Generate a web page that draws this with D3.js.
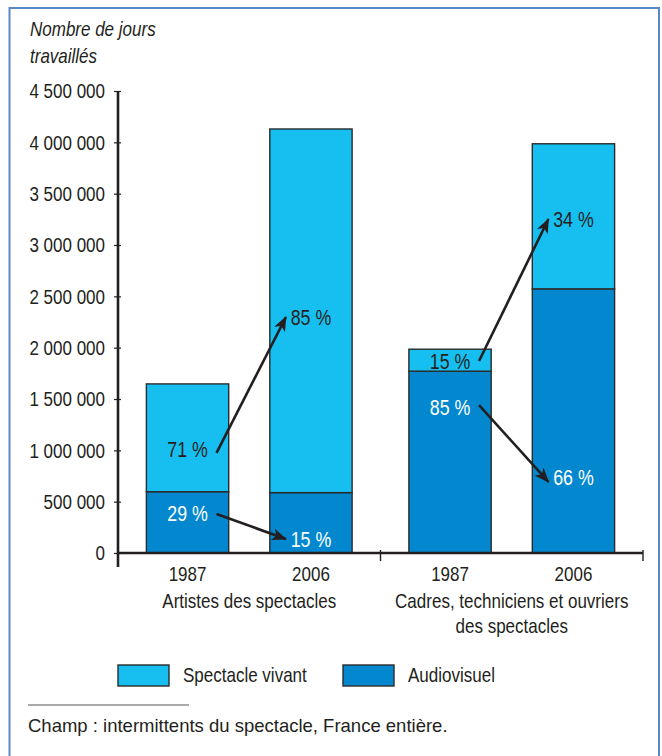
<!DOCTYPE html>
<html>
<head>
<meta charset="utf-8">
<script src="https://cdn.jsdelivr.net/npm/d3@7"></script>
<style>
  body { margin: 0; background: #fff; }
  svg text { font-family: "Liberation Sans", Arial, sans-serif; fill: #231f20; }
</style>
</head>
<body>
<div id="chart"></div>
<script>
/*
    Data
*/
var groups = ["Artistes des spectacles", "Cadres, techniciens et ouvriers des spectacles"];
var groupLines = [["Artistes des spectacles"], ["Cadres, techniciens et ouvriers", "des spectacles"]];
var years = ["1987", "2006"];
var series = ["Spectacle vivant", "Audiovisuel"];

// one value per bar, order: Artistes 1987, Artistes 2006, Cadres 1987, Cadres 2006
var audiovisuel = [597000, 588000, 1771000, 2573000];
var vivant = [1050000, 3542000, 214000, 1413000];

// share labels and where they sit (in days worked, on the value axis)
var vivantPct = ["71 %", "85 %", "15 %", "34 %"];
var vivantLabelAt = [1010000, 2300000, 1870000, 3250000];
var audioPct = ["29 %", "15 %", "85 %", "66 %"];
var audioLabelAt = [390000, 140000, 1420000, 740000];

// arrows from the 1987 label to the 2006 label, per group and series
var arrowFrom = [975000, 380000, 1870000, 1441000];
var arrowTo = [2299000, 136000, 3253000, 692000];
var arrowGroup = [0, 0, 1, 1];

var yTicks = [0, 500000, 1000000, 1500000, 2000000, 2500000, 3000000, 3500000, 4000000, 4500000];

/*
    Layout
*/
var width = 662, height = 756;
var plot = { left: 118, right: 643, top: 91, bottom: 553 };
var lightBlue = "#17bff1";
var darkBlue = "#0388cf";
var ink = "#231f20";
var narrow = 0.81; // the original type is a condensed face

var svg = d3.select("#chart").append("svg")
    .attr("width", width)
    .attr("height", height);

// places a horizontally squeezed text at x, y
function addText(parent, x, y, str, size, anchor) {
    return parent.append("text")
        .attr("transform", "translate(" + x + "," + y + ") scale(" + narrow + ",1)")
        .attr("text-anchor", anchor || "start")
        .style("font-size", size + "px")
        .text(str);
}

// frame
svg.append("rect")
    .attr("x", 9.5).attr("y", 8)
    .attr("width", 649.5).attr("height", 760)
    .attr("fill", "none")
    .attr("stroke", "#5b87c8")
    .attr("stroke-width", 2);

var y = d3.scaleLinear()
    .domain([0, 4500000])
    .range([plot.bottom, plot.top]);

var xGroup = d3.scaleBand()
    .domain(groups)
    .range([plot.left, plot.right]);

var xYear = d3.scaleBand()
    .domain(years)
    .range([0, xGroup.bandwidth()])
    .paddingInner(0.333)
    .paddingOuter(0.23);

// bar rows built from the arrays
var bars = [];
groups.forEach(function (g, gi) {
    years.forEach(function (yr, yi) {
        var i = gi * 2 + yi;
        bars.push({ group: g, year: yr, i: i, audio: audiovisuel[i], vivant: vivant[i] });
    });
});

function barX(d) { return xGroup(d.group) + xYear(d.year); }
function barCenter(d) { return barX(d) + xYear.bandwidth() / 2; }

var fr = d3.formatLocale({ decimal: ",", thousands: " ", grouping: [3], currency: ["", " €"] });
var fmt = fr.format(",d");

/* Y axis */
var yAxis = svg.append("g")
    .attr("transform", "translate(" + plot.left + ",0)")
    .call(d3.axisLeft(y).tickValues(yTicks).tickFormat(fmt).tickSizeOuter(0).tickSize(4).tickPadding(13));
yAxis.select(".domain").remove();
yAxis.selectAll(".tick line").attr("x2", -4).attr("x1", 3).attr("stroke", ink).attr("stroke-width", 1.2);
yAxis.selectAll(".tick text")
    .attr("x", null)
    .attr("transform", "translate(-13,0) scale(" + narrow + ",1)")
    .style("font-size", "21px")
    .attr("fill", ink);

/* bars */
var barG = svg.append("g");
barG.selectAll(".audio")
    .data(bars).enter().append("rect")
    .attr("class", "audio")
    .attr("x", barX)
    .attr("width", xYear.bandwidth())
    .attr("y", function (d) { return y(d.audio); })
    .attr("height", function (d) { return y(0) - y(d.audio); })
    .attr("fill", darkBlue)
    .attr("stroke", "#2b2b2b")
    .attr("stroke-width", 1.4);

barG.selectAll(".vivant")
    .data(bars).enter().append("rect")
    .attr("class", "vivant")
    .attr("x", barX)
    .attr("width", xYear.bandwidth())
    .attr("y", function (d) { return y(d.audio + d.vivant); })
    .attr("height", function (d) { return y(d.audio) - y(d.audio + d.vivant); })
    .attr("fill", lightBlue)
    .attr("stroke", "#2b2b2b")
    .attr("stroke-width", 1.4);

/* axis lines */
svg.append("line")
    .attr("x1", plot.left).attr("x2", plot.left)
    .attr("y1", y(4500000)).attr("y2", plot.bottom + 14)
    .attr("stroke", ink).attr("stroke-width", 2.6);
svg.append("line")
    .attr("x1", plot.left).attr("x2", plot.right)
    .attr("y1", plot.bottom).attr("y2", plot.bottom)
    .attr("stroke", ink).attr("stroke-width", 2.6);
svg.selectAll(".gtick")
    .data(groups.slice(1).map(function (g) { return xGroup(g); }).concat([plot.right]))
    .enter().append("line")
    .attr("x1", function (d) { return d; }).attr("x2", function (d) { return d; })
    .attr("y1", plot.bottom - 3).attr("y2", plot.bottom + 8)
    .attr("stroke", ink).attr("stroke-width", 1.4);

/* year labels */
bars.forEach(function (d) {
    addText(svg, barCenter(d), 581, d.year, 21, "middle");
});

/* group labels */
groups.forEach(function (g, gi) {
    groupLines[gi].forEach(function (line, li) {
        addText(svg, xGroup(g) + xGroup.bandwidth() / 2, 608 + li * 25, line, 21, "middle");
    });
});

/* percentage labels */
bars.forEach(function (d) {
    addText(svg, barCenter(d), y(vivantLabelAt[d.i]), vivantPct[d.i], 22, "middle")
        .attr("dy", "0.36em");
    addText(svg, barCenter(d), y(audioLabelAt[d.i]), audioPct[d.i], 22, "middle")
        .attr("dy", "0.36em")
        .style("fill", "#ffffff");
});

/* arrows */
svg.append("defs").append("marker")
    .attr("id", "head")
    .attr("markerUnits", "userSpaceOnUse")
    .attr("markerWidth", 16).attr("markerHeight", 12)
    .attr("refX", 14).attr("refY", 6)
    .attr("orient", "auto")
    .append("path")
    .attr("d", "M0,0 L15,6 L0,12 L4,6 Z")
    .attr("fill", ink);

svg.selectAll(".arrow")
    .data(arrowFrom).enter().append("line")
    .attr("x1", function (d, i) { return xGroup(groups[arrowGroup[i]]) + xYear("1987") + xYear.bandwidth() / 2 + 29; })
    .attr("y1", function (d) { return y(d); })
    .attr("x2", function (d, i) { return xGroup(groups[arrowGroup[i]]) + xYear("2006") + xYear.bandwidth() / 2 - 25; })
    .attr("y2", function (d, i) { return y(arrowTo[i]); })
    .attr("stroke", ink)
    .attr("stroke-width", 2.6)
    .attr("marker-end", "url(#head)");

/* axis title */
addText(svg, 30, 36, "Nombre de jours", 21).style("font-style", "italic");
addText(svg, 30, 63, "travaillés", 21).style("font-style", "italic");

/* legend */
var legendX = [118, 343];
series.forEach(function (s, i) {
    var g = svg.append("g").attr("transform", "translate(" + legendX[i] + ",665)");
    g.append("rect")
        .attr("width", 51).attr("height", 21)
        .attr("fill", i === 0 ? lightBlue : darkBlue)
        .attr("stroke", "#2b2b2b")
        .attr("stroke-width", 1.4);
    addText(g, 65, 17, s, 21);
});

/* note */
svg.append("line")
    .attr("x1", 28).attr("x2", 189)
    .attr("y1", 705).attr("y2", 705)
    .attr("stroke", "#555").attr("stroke-width", 1);
svg.append("text")
    .attr("x", 28).attr("y", 732)
    .style("font-size", "18.5px")
    .text("Champ : intermittents du spectacle, France entière.");
</script>
</body>
</html>
